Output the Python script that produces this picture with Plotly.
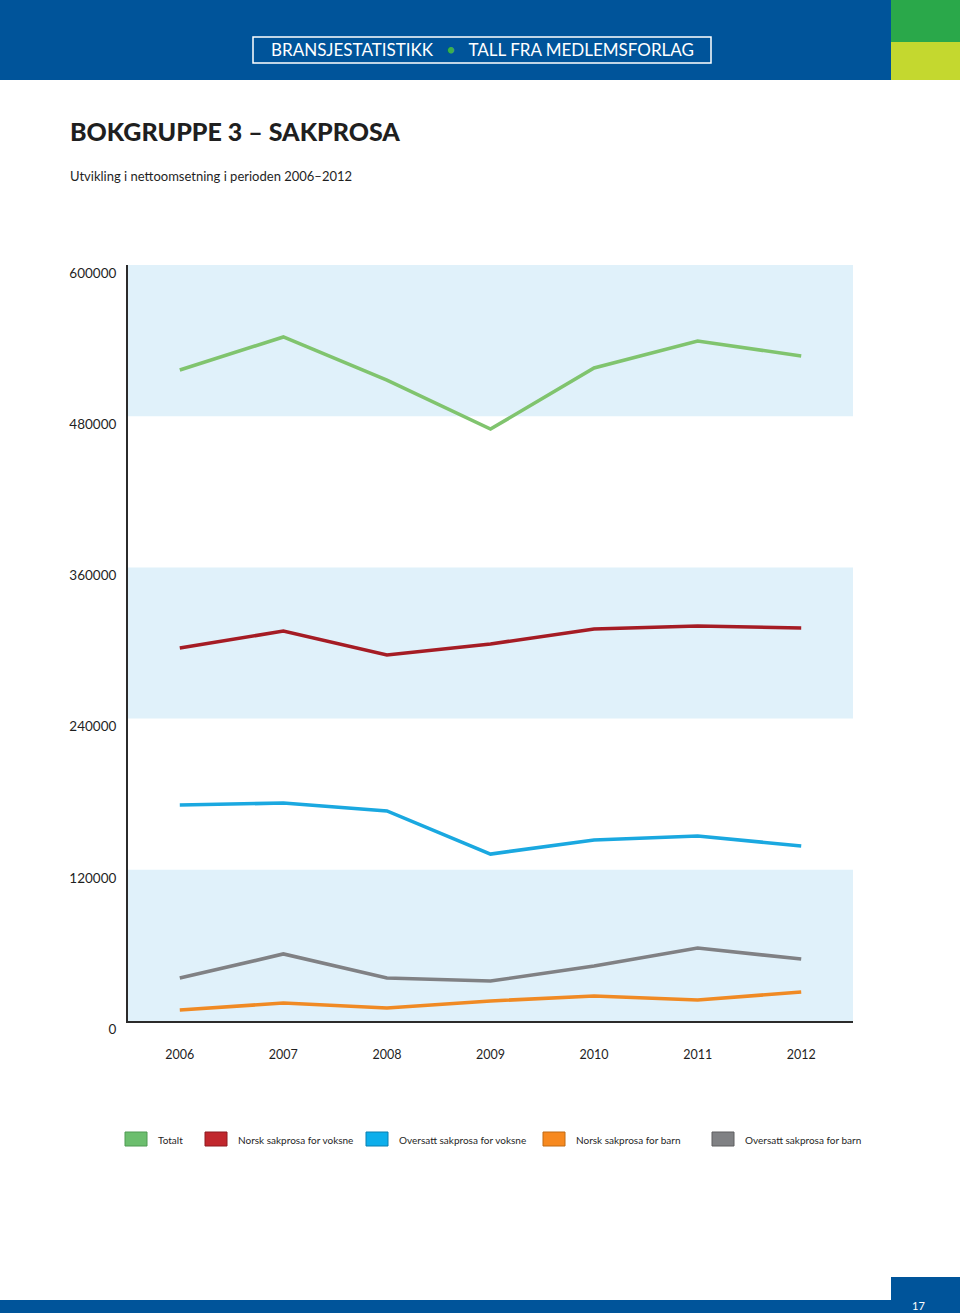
import plotly.graph_objects as go

W, H = 960, 1313

years = [2006, 2007, 2008, 2009, 2010, 2011, 2012]
series_names = ["Totalt", "Norsk sakprosa for voksne", "Oversatt sakprosa for voksne",
                "Norsk sakprosa for barn", "Oversatt sakprosa for barn"]
totalt = [516700, 542900, 508700, 469800, 518300, 539700, 527800]
norsk_voksne = [296000, 309500, 290500, 299200, 311100, 313500, 311900]
oversatt_voksne = [171400, 173000, 166700, 132500, 143700, 146800, 138900]
norsk_barn = [8700, 14300, 10300, 15900, 19800, 16700, 23000]
oversatt_barn = [34100, 53200, 34100, 31700, 43700, 57900, 49200]
series_values = [totalt, norsk_voksne, oversatt_voksne, norsk_barn, oversatt_barn]

line_colors = ["#80C46E", "#A51C24", "#1AA8E0", "#F08A24", "#808184"]
legend_fill = ["#6CBE6E", "#C1272D", "#0DAEEB", "#F7891F", "#808184"]
legend_edge = ["#4E9A52", "#8E1B20", "#0A7FB0", "#C06A15", "#5E5F61"]

y_ticks = [0, 120000, 240000, 360000, 480000, 600000]
y_tick_text = ["0", "120000", "240000", "360000", "480000", "600000"]
bands = [(0, 120000), (240000, 360000), (480000, 600000)]

FONT = "Lato, 'Open Sans', sans-serif"


def px_x(p):
    return p / W


def px_y(p):
    return 1 - p / H


fig = go.Figure()
for name, vals, col in zip(series_names, series_values, line_colors):
    fig.add_trace(go.Scatter(x=years, y=vals, mode="lines", name=name,
                             line=dict(color=col, width=3.6), showlegend=False,
                             hoverinfo="x+y+name"))

shapes = []
# light blue bands
for lo, hi in bands:
    shapes.append(dict(type="rect", xref="x domain", yref="y", x0=0, x1=1, y0=lo, y1=hi,
                       fillcolor="#E0F1FA", line=dict(width=0), layer="below"))

# header bar
shapes.append(dict(type="rect", xref="paper", yref="paper", x0=0, x1=px_x(891),
                   y0=px_y(80), y1=1, fillcolor="#00549A", line=dict(width=0)))
shapes.append(dict(type="rect", xref="paper", yref="paper", x0=px_x(891), x1=1,
                   y0=px_y(42), y1=1, fillcolor="#2AA84A", line=dict(width=0)))
shapes.append(dict(type="rect", xref="paper", yref="paper", x0=px_x(891), x1=1,
                   y0=px_y(80), y1=px_y(42), fillcolor="#C4D82F", line=dict(width=0)))
shapes.append(dict(type="rect", xref="paper", yref="paper", x0=px_x(253), x1=px_x(711),
                   y0=px_y(63), y1=px_y(37), fillcolor="rgba(0,0,0,0)",
                   line=dict(color="white", width=1.5)))
# footer
shapes.append(dict(type="rect", xref="paper", yref="paper", x0=0, x1=1,
                   y0=0, y1=px_y(1300), fillcolor="#00549A", line=dict(width=0)))
shapes.append(dict(type="rect", xref="paper", yref="paper", x0=px_x(891), x1=1,
                   y0=0, y1=px_y(1277), fillcolor="#00549A", line=dict(width=0)))

annotations = [
    dict(x=px_x(482), y=px_y(50), xref="paper", yref="paper", showarrow=False,
         text="BRANSJESTATISTIKK   <span style='color:#3DB04B'>•</span>   TALL FRA MEDLEMSFORLAG",
         font=dict(family=FONT, size=17, color="white"), xanchor="center", yanchor="middle"),
    dict(x=px_x(68), y=px_y(131), xref="paper", yref="paper", showarrow=False,
         text="BOKGRUPPE 3 – SAKPROSA",
         font=dict(family=FONT, size=25, color="#1F1F1F", weight=900),
         xanchor="left", yanchor="middle"),
    dict(x=px_x(68), y=px_y(176), xref="paper", yref="paper", showarrow=False,
         text="Utvikling i nettoomsetning i perioden 2006–2012",
         font=dict(family=FONT, size=13, color="#1F1F1F"), xanchor="left", yanchor="middle"),
    dict(x=px_x(918), y=px_y(1305), xref="paper", yref="paper", showarrow=False,
         text="17", font=dict(family=FONT, size=11, color="white"),
         xanchor="center", yanchor="middle"),
]

# custom legend
legend_x = [125, 205, 366, 543, 712]
for lx, name, fc, ec in zip(legend_x, series_names, legend_fill, legend_edge):
    shapes.append(dict(type="rect", xref="paper", yref="paper", x0=px_x(lx), x1=px_x(lx + 22),
                       y0=px_y(1146), y1=px_y(1132), fillcolor=fc, line=dict(color=ec, width=1)))
    annotations.append(dict(x=px_x(lx + 31), y=px_y(1140), xref="paper", yref="paper",
                            showarrow=False, text=name, xanchor="left", yanchor="middle",
                            font=dict(family=FONT, size=10, color="#1F1F1F")))

fig.update_layout(
    width=W, height=H, autosize=False,
    margin=dict(l=0, r=0, t=0, b=0, pad=0),
    paper_bgcolor="white", plot_bgcolor="white",
    font=dict(family=FONT, color="#1F1F1F"),
    shapes=shapes, annotations=annotations, showlegend=False,
    xaxis=dict(domain=[px_x(128), px_x(853)], range=[2005.5, 2012.5], automargin=False,
               tickvals=years, ticktext=[str(y) for y in years],
               showgrid=False, zeroline=False, showline=True, linecolor="#2B2B2B", linewidth=2,
               ticks="", ticklabelstandoff=21, tickfont=dict(size=12.5, color="#1F1F1F")),
    yaxis=dict(domain=[px_y(1021), px_y(265)], range=[0, 600000], automargin=False,
               tickvals=y_ticks, ticktext=y_tick_text,
               showgrid=False, zeroline=False, showline=True, linecolor="#2B2B2B", linewidth=2,
               ticks="", ticklabelstandoff=7, ticklabelshift=8,
               tickfont=dict(size=13.5, color="#1F1F1F")),
)

fig.write_html(
    "out.html",
    config={"displayModeBar": False},
    post_script=("document.documentElement.style.margin='0';"
                 "document.documentElement.style.overflow='hidden';"
                 "document.body.style.margin='0';"
                 "document.body.style.overflow='hidden';"),
)
